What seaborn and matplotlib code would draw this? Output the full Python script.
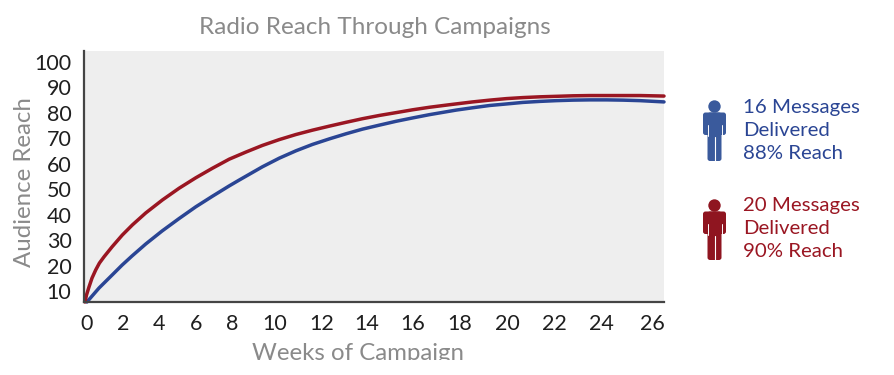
import numpy as np
import pandas as pd
import matplotlib
matplotlib.use('Agg')
import matplotlib.pyplot as plt
import seaborn as sns
from matplotlib.patches import Circle, FancyBboxPatch
from matplotlib.transforms import Bbox, ScaledTranslation

# values
blue_weeks = [0.15, 0.77, 1.44, 1.95, 2.5, 3.26, 4.16, 5.08, 5.98, 6.89, 7.83, 8.33, 9.43, 10.21, 10.92, 11.62, 12.36,
              13.1, 13.82, 14.57, 15.29, 16, 16.72, 17.86, 18.54, 19.25, 19.95, 20.64, 21.36, 22.07, 22.77, 23.49, 24.19, 24.84, 25.52, 26.5]
blue_reach = [5.7, 11.2, 16.3, 20.2, 23.8, 28.5, 33.6, 38.5, 43.1, 47.2, 51.3, 53.6, 58.8, 62.2, 65.1, 67.6, 69.8,
              71.8, 73.6, 75.2, 76.7, 78, 79.3, 81.1, 82, 82.9, 83.5, 84.1, 84.5, 84.8, 85, 85.1, 85.1, 85, 84.8, 84.3]
red_weeks = [0.05, 0.13, 0.26, 0.41, 0.6, 0.79, 1.03, 1.44, 1.96, 2.52, 3.26, 4.18, 5.08, 5.98, 6.89, 7.83, 8.65, 9.43, 10.21, 10.92, 11.62, 12.36,
             13.1, 13.82, 14.57, 15.29, 16, 16.72, 17.57, 18.54, 19.25, 19.95, 20.64, 21.36, 22.07, 22.77, 23.49, 24.19, 24.84, 25.52, 26.5]
red_reach = [5.7, 8.5, 11.7, 15.1, 18.3, 21, 23.5, 27.4, 32, 36, 40.7, 45.8, 50.4, 54.5, 58.2, 61.8, 64.6, 67.2, 69.5, 71.5, 73.2, 74.8,
             76.3, 77.7, 79, 80.1, 81.2, 82.2, 83.2, 84.3, 85, 85.6, 86, 86.3, 86.5, 86.7, 86.8, 86.8, 86.8, 86.8, 86.6]

x_ticks = [0, 2, 4, 6, 8, 10, 12, 14, 16, 18, 20, 22, 24, 26]
y_ticks = [10, 20, 30, 40, 50, 60, 70, 80, 90, 100]
# the original week axis is not evenly spaced
x_knots = [0, 2, 4, 6, 8, 10, 12, 14, 16, 18, 20, 22, 24, 26, 26.5]
x_place = [85, 124, 160, 197, 233, 275, 322, 367, 413, 460, 508, 555, 602, 652, 664]

BLUE = '#2a4594'
RED = '#9a1622'
ICON_BLUE = '#3a5a9c'
ICON_RED = '#8f1520'
GREY = '#8a8a8a'
DARK = '#1f1f1f'

sns.set_theme(style='white')
plt.rcParams['font.family'] = ['Lato', 'DejaVu Sans']

fig = plt.figure(figsize=(8.94, 3.75), dpi=100)
ax = fig.add_axes([84 / 894, 1 - 302 / 375, 580 / 894, 251 / 375])
ax.set_facecolor('#eeeeee')

ax.set_xscale('function', functions=(
    lambda v: np.interp(v, x_knots, x_place),
    lambda v: np.interp(v, x_place, x_knots)))

sns.lineplot(x=blue_weeks, y=blue_reach, color=BLUE, linewidth=2.5, ax=ax, clip_on=False)
sns.lineplot(x=red_weeks, y=red_reach, color=RED, linewidth=2.5, ax=ax, clip_on=False)

ax.set_xlim(0, 26.5)
ax.set_ylim(5.7, 104.3)
ax.set_xticks(x_ticks)
ax.set_yticks(y_ticks)
ax.tick_params(axis='both', length=0, labelsize=15.5, labelcolor=DARK)
ax.tick_params(axis='x', pad=8.5)
ax.tick_params(axis='y', pad=9)
first = ax.xaxis.get_majorticklabels()[0]
first.set_transform(first.get_transform() + ScaledTranslation(3 / 100, 0, fig.dpi_scale_trans))

for side in ['top', 'right']:
    ax.spines[side].set_visible(False)
for side in ['left', 'bottom']:
    ax.spines[side].set_color('#444444')
    ax.spines[side].set_linewidth(1.6)

# overlay in picture pixels for the texts and the figures
over = fig.add_axes([0, 0, 1, 1], facecolor='none')
over.set_xlim(0, 894)
over.set_ylim(375, 0)
over.axis('off')

over.text(375, 28, 'Radio Reach Through Campaigns', color=GREY, fontsize=17.5, ha='center', va='center')
over.text(25, 182, 'Audience Reach', color=GREY, fontsize=17.3, rotation=90, ha='center', va='center')
xlab = over.text(358, 353, 'Weeks of Campaign', color=GREY, fontsize=17.3, ha='center', va='center')
# the bottom of this label is cut off in the picture
xlab.set_clip_box(Bbox([[0, 375 - 360], [894, 375]]))
xlab.set_clip_on(True)


def person(x, top, color):
    over.add_patch(Circle((x, top + 6.5), 6.2, color=color, lw=0))
    over.add_patch(FancyBboxPatch((x - 11.5, top + 12.5), 23, 22.5, boxstyle='round,pad=0,rounding_size=2.5', color=color, lw=0))
    over.add_patch(FancyBboxPatch((x - 7, top + 12.5), 14, 48.5, boxstyle='round,pad=0,rounding_size=2.5', color=color, lw=0))
    # gaps under the arms and between the legs
    over.plot([x - 7, x - 7], [top + 25, top + 36], color='white', lw=0.7)
    over.plot([x + 7, x + 7], [top + 25, top + 36], color='white', lw=0.7)
    over.plot([x, x], [top + 37, top + 62], color='white', lw=0.8)


person(714.5, 100, ICON_BLUE)
person(714.5, 199, ICON_RED)

for y, line in zip([113, 136, 159], ['16 Messages', 'Delivered', '88% Reach']):
    over.text(743, y, line, color=BLUE, fontsize=14.7, ha='left', va='baseline')
for y, line in zip([211, 234, 257], ['20 Messages', 'Delivered', '90% Reach']):
    over.text(743, y, line, color=RED, fontsize=14.7, ha='left', va='baseline')

fig.savefig('out.png', dpi=100)
